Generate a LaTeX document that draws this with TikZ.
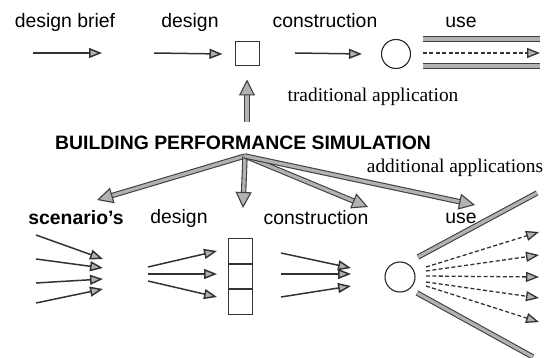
\documentclass[tikz,border=0pt]{standalone}
\usepackage{fontspec}
\setmainfont{Liberation Serif}
\setsansfont{Liberation Sans}
\usetikzlibrary{arrows.meta}

\tikzset{
  stage/.style={font=\sffamily\fontsize{9.7}{11}\selectfont},
  note/.style={font=\fontsize{9.7}{11}\selectfont},
  title/.style={font=\sffamily\bfseries\fontsize{9.7}{11}\selectfont},
  flow/.style={draw=black!80, line width=0.75pt,
    -{Triangle[length=6.5pt,width=5pt,fill=gray!60]}},
  dashflow/.style={draw=black!80, line width=0.65pt, dash pattern=on 2pt off 1.2pt,
    -{Triangle[length=6.5pt,width=5pt,fill=gray!60]}},
  bigline/.style={draw=black!75, double=gray!60, double distance=1.6pt, line width=0.55pt},
  bigflow/.style={bigline, -{Triangle[length=8pt,width=8pt,fill=gray!60]}},
  cell/.style={draw=black!80, line width=0.5pt, minimum size=12pt, inner sep=0pt},
  ring/.style={circle, draw=black!85, line width=0.55pt, minimum size=14.5pt, inner sep=0pt}
}

\begin{document}
\begin{tikzpicture}[x=0.5pt, y=-0.5pt]
\useasboundingbox (0,0) rectangle (546,358);

% traditional chain
\node[stage] (brief) at (65,22) {design brief};
\node[stage] (dsgn) at (190,22) {design};
\node[stage] (constr) at (325,21) {construction};
\node[stage] (use) at (461,22) {use};

\node[cell] (sq) at (247,54) {};
\node[ring] (circ) at (396,54) {};

\coordinate (b0) at (33,53);
\coordinate (b1) at (102,53);
\coordinate (d0) at (154,53);
\coordinate (c0) at (295,53);
\draw[flow] (b0) -- (b1);
\draw[flow] (d0) -- ([xshift=-6pt]sq.west);
\draw[flow] (c0) -- ([xshift=-9.5pt]circ.west);

\coordinate (u0) at (423,39); \coordinate (u1) at (540,39);
\coordinate (u2) at (423,53); \coordinate (u3) at (540,53);
\coordinate (u4) at (423,66); \coordinate (u5) at (540,66);
\draw[bigline] (u0) -- (u1);
\draw[dashflow] (u2) -- (u3);
\draw[bigline] (u4) -- (u5);

\node[note] (trad) at (373,97) {traditional application};

% simulation in the middle
\node[title] (bps) at (243,143) {BUILDING PERFORMANCE SIMULATION};
\coordinate (up) at (247,122);
\draw[bigflow] (up) -- ([yshift=-6.5pt]sq.south);

\node[note] (addl) at (455,168) {additional applications};

\coordinate (fan) at (245,156);
\coordinate (fs) at (97,200);
\coordinate (fd) at (243,208);
\coordinate (fc) at (368,207);
\coordinate (fu) at (475,205);
\foreach \t in {fs,fd,fc,fu}
  \draw[bigflow] (fan) -- (\t);

% extended chain
\node[title] (scen) at (76,218) {scenario's};
\node[stage] (dsgn2) at (179,218) {design};
\node[stage] (constr2) at (316,218) {construction};
\node[stage] (use2) at (461,218) {use};

\foreach \ya/\yb in {235/259, 259/268, 283/279, 303/289}
  \draw[flow] (36,\ya) -- (103,\yb);

\node[cell, minimum height=12.2pt] (cA) at (240,251) {};
\node[cell, minimum height=12.2pt, anchor=north] (cB) at (cA.south) {};
\node[cell, minimum height=12.2pt, anchor=north] (cC) at (cB.south) {};

\foreach \ya/\yb in {267/251, 274/274, 281/297}
  \draw[flow] (148,\ya) -- (217,\yb);

\foreach \ya/\yb in {253/268, 274/274, 297/286}
  \draw[flow] (281,\ya) -- (351,\yb);

\node[ring, minimum size=15pt] (circ2) at (400,277) {};

\coordinate (w0) at (418,257); \coordinate (w1) at (537,193);
\coordinate (w2) at (417,293); \coordinate (w3) at (533,357);
\draw[bigline] (w0) -- (w1);
\draw[bigline] (w2) -- (w3);

\foreach \ya/\yb in {267/232, 271/255, 276/277, 282/298, 286/322}
  \draw[dashflow] (426,\ya) -- (539,\yb);
\end{tikzpicture}
\end{document}
